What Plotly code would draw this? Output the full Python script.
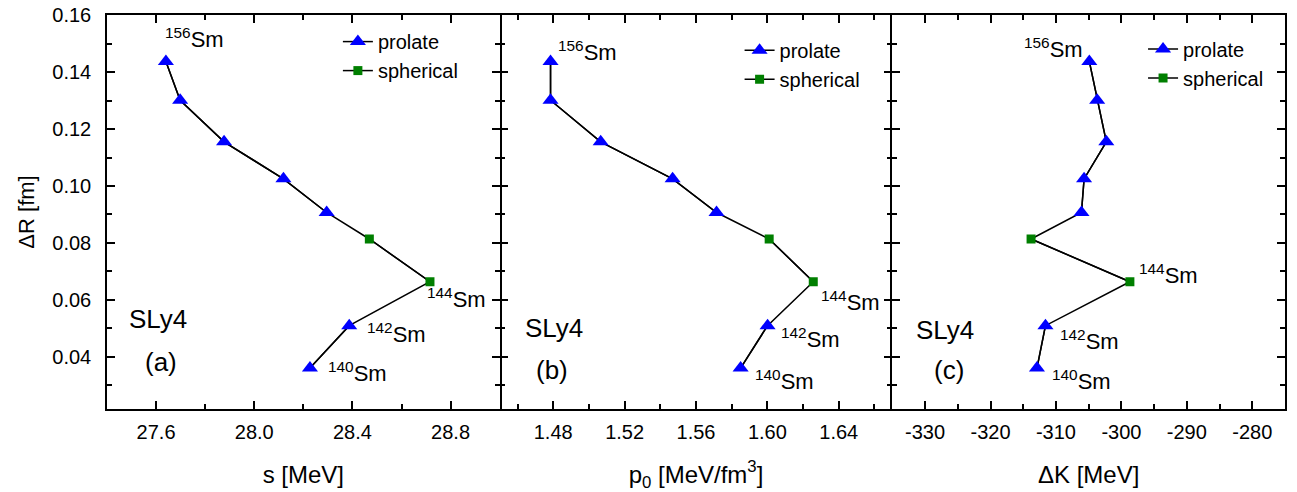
import plotly.graph_objects as go

# ---------------- data ----------------
isotopes = ["156", "154", "152", "150", "148", "146", "144", "142", "140"]
shape = ["prolate", "prolate", "prolate", "prolate", "prolate",
         "spherical", "spherical", "prolate", "prolate"]
delta_R = [0.1437, 0.1301, 0.1155, 0.1025, 0.0907, 0.0814, 0.0664, 0.0510, 0.0361]
s_MeV = [27.640, 27.698, 27.877, 28.119, 28.295, 28.469, 28.716, 28.387, 28.227]
p0 = [1.4785, 1.4785, 1.5066, 1.5469, 1.5715, 1.6010, 1.6257, 1.6001, 1.5850]
dK = [-304.9, -303.7, -302.3, -305.7, -306.1, -313.8, -298.7, -311.6, -312.9]

y_ticks = [0.04, 0.06, 0.08, 0.10, 0.12, 0.14, 0.16]
y_ticktext = ["0.04", "0.06", "0.08", "0.10", "0.12", "0.14", "0.16"]
xa_ticks = [27.6, 28.0, 28.4, 28.8]
xa_ticktext = ["27.6", "28.0", "28.4", "28.8"]
xb_ticks = [1.48, 1.52, 1.56, 1.60, 1.64]
xb_ticktext = ["1.48", "1.52", "1.56", "1.60", "1.64"]
xc_ticks = [-330, -320, -310, -300, -290, -280]
xc_ticktext = ["-330", "-320", "-310", "-300", "-290", "-280"]

labelled = ["156", "144", "142", "140"]

FONT = "Liberation Sans, Arial, sans-serif"
BLUE = "#0000FF"
GREEN = "#007F00"

panels = [
    dict(x=s_MeV, xa="x", ya="y", legend="legend", tag="(a)",
         lab={"156": (27.628, 0.1520), "144": (28.696, 0.0607),
              "142": (28.451, 0.0483), "140": (28.292, 0.0349)},
         sly=(27.608, 0.0532, 27.622, 0.0383)),
    dict(x=p0, xa="x2", ya="y2", legend="legend2", tag="(b)",
         lab={"156": (1.4815, 0.1473), "144": (1.6289, 0.0597),
              "142": (1.6064, 0.0468), "140": (1.5919, 0.0321)},
         sly=(1.4804, 0.0500, 1.4796, 0.0355)),
    dict(x=dK, xa="x3", ya="y3", legend="legend3", tag="(c)",
         lab={"156": (-315.2, 0.1484), "144": (-297.6, 0.0690),
              "142": (-309.7, 0.0461), "140": (-310.9, 0.0321)},
         sly=(-326.9, 0.0493, -326.3, 0.0355)),
]

fig = go.Figure()
annotations = []
for p in panels:
    xs = p["x"]
    # connecting line through all isotopes
    fig.add_trace(go.Scatter(x=xs, y=delta_R, mode="lines",
                             line=dict(color="black", width=1.5),
                             xaxis=p["xa"], yaxis=p["ya"], showlegend=False,
                             hoverinfo="skip"))
    for kind, sym, col, size in [("prolate", "triangle-up", BLUE, 14),
                                 ("spherical", "square", GREEN, 9)]:
        xv = [x if sh == kind else None for x, sh in zip(xs, shape)]
        yv = [y if sh == kind else None for y, sh in zip(delta_R, shape)]
        fig.add_trace(go.Scatter(x=xv, y=yv, mode="lines+markers", name=kind,
                                 line=dict(color="black", width=1.5),
                                 marker=dict(symbol=sym, color=col, size=size,
                                             line=dict(width=0)),
                                 xaxis=p["xa"], yaxis=p["ya"],
                                 legend=p["legend"], connectgaps=False))
    for iso in labelled:
        lx, ly = p["lab"][iso]
        annotations.append(dict(x=lx, y=ly, xref=p["xa"], yref=p["ya"],
                                text=f"<sup>{iso}</sup>Sm", showarrow=False,
                                xanchor="left", yanchor="middle",
                                font=dict(size=22, color="black", family=FONT)))
    sx, sy, tx, ty = p["sly"]
    annotations.append(dict(x=sx, y=sy, xref=p["xa"], yref=p["ya"], text="SLy4",
                            showarrow=False, xanchor="center", yanchor="middle",
                            font=dict(size=26, color="black", family=FONT)))
    annotations.append(dict(x=tx, y=ty, xref=p["xa"], yref=p["ya"], text=p["tag"],
                            showarrow=False, xanchor="center", yanchor="middle",
                            font=dict(size=26, color="black", family=FONT)))

common_axis = dict(showline=True, linecolor="black", linewidth=1.5, mirror="ticks",
                   ticks="inside", ticklen=8, tickwidth=1.5, tickcolor="black",
                   showgrid=False, zeroline=False, automargin=False,
                   tickfont=dict(size=20, color="black", family=FONT))

def xaxis(dom, rng, tv, tt, minor_dtick, title, anchor):
    d = dict(common_axis)
    d.update(domain=dom, range=rng, anchor=anchor,
             tickmode="array", tickvals=tv, ticktext=tt,
             minor=dict(ticks="inside", ticklen=5, tickwidth=1.5, tickcolor="black",
                        dtick=minor_dtick, tick0=tv[0]),
             ticklabelstandoff=4,
             title=dict(text=title, font=dict(size=24, color="black", family=FONT),
                        standoff=24))
    return d

def yaxis(anchor, show_labels, showline=True, title=None):
    d = dict(common_axis)
    d.update(domain=[0, 1], range=[0.02175, 0.16], anchor=anchor,
             showline=showline,
             tickmode="array", tickvals=y_ticks, ticktext=y_ticktext,
             showticklabels=show_labels,
             minor=dict(ticks="inside", ticklen=5, tickwidth=1.5, tickcolor="black",
                        dtick=0.01, tick0=0.0),
             ticklabelstandoff=10)
    if title:
        d["title"] = dict(text=title, font=dict(size=22, color="black", family=FONT),
                          standoff=12)
    return d

third = 1.0 / 3.0
legend_common = dict(bgcolor="rgba(0,0,0,0)", borderwidth=0,
                     font=dict(size=20, color="black", family=FONT),
                     xref="paper", yref="paper", xanchor="left", yanchor="top",
                     tracegroupgap=0, itemwidth=30)

fig.update_layout(
    width=1297, height=492,
    margin=dict(l=107, r=12, t=15, b=83, autoexpand=False),
    paper_bgcolor="white", plot_bgcolor="white",
    font=dict(family=FONT, color="black"),
    xaxis=xaxis([0, third], [27.4, 29.0], xa_ticks, xa_ticktext, 0.2, "s [MeV]", "y"),
    xaxis2=xaxis([third, 2 * third], [1.45, 1.67], xb_ticks, xb_ticktext, 0.02,
                 "p<sub>0</sub> [MeV/fm<sup>3</sup>]", "y2"),
    xaxis3=xaxis([2 * third, 1], [-335, -275], xc_ticks, xc_ticktext, 5,
                 "ΔK [MeV]", "y3"),
    yaxis=yaxis("x", True, True, "ΔR [fm]"),
    yaxis2=yaxis("x2", False, False),
    yaxis3=yaxis("x3", False, True),
    legend=dict(legend_common, x=0.196, y=0.982),
    legend2=dict(legend_common, x=0.537, y=0.960),
    legend3=dict(legend_common, x=0.8795, y=0.963),
    annotations=annotations,
    showlegend=True,
)

fig.write_html("out.html")
